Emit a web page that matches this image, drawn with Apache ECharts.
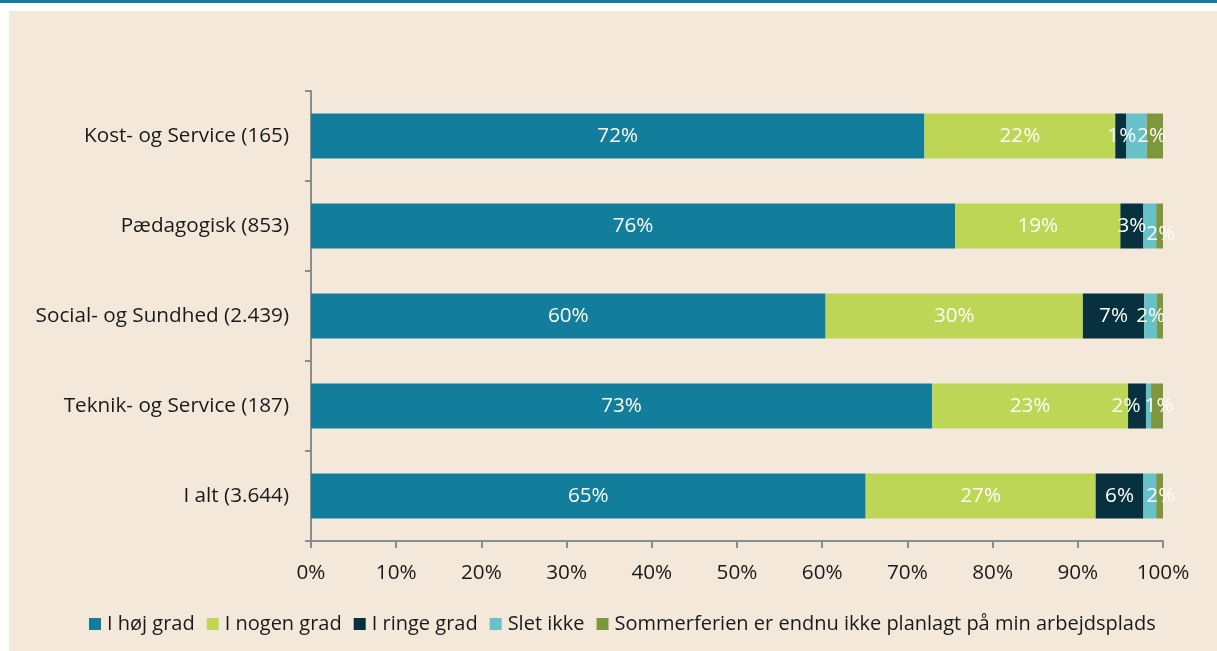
<!DOCTYPE html>
<html><head><meta charset="utf-8">
<script src="https://cdn.jsdelivr.net/npm/echarts@6/dist/echarts.min.js"></script>
<style>html,body{margin:0;padding:0;background:#fff}#c{width:1217px;height:651px}</style>
</head><body><div id="c"></div>
<script>
const categories = ['Kost- og Service (165)', 'Pædagogisk (853)', 'Social- og Sundhed (2.439)', 'Teknik- og Service (187)', 'I alt (3.644)'];
const seriesNames = ['I høj grad', 'I nogen grad', 'I ringe grad', 'Slet ikke', 'Sommerferien er endnu ikke planlagt på min arbejdsplads'];
const hojGrad   = [72.0, 75.6, 60.4, 72.9, 65.1];
const nogenGrad = [22.4, 19.4, 30.2, 23.0, 27.0];
const ringeGrad = [1.3, 2.7, 7.2, 2.1, 5.6];
const sletIkke  = [2.4, 1.5, 1.5, 0.6, 1.5];
const ikkePlanlagt = [1.9, 0.8, 0.7, 1.4, 0.8];
const xTicks = [0, 10, 20, 30, 40, 50, 60, 70, 80, 90, 100];

const colors = ['#137E9B', '#BDD656', '#07313F', '#67C1C8', '#7E963C'];
const values = [hojGrad, nogenGrad, ringeGrad, sletIkke, ikkePlanlagt];
// per-series, per-category label visibility/offset (display only)
const labelCfg = [
  [{}, {}, {}, {}, {}],
  [{}, {}, {}, {}, {}],
  [{off:[1,0]}, {}, {}, {off:[-11,0]}, {}],
  [{off:[15,0]}, {off:[11,8]}, {}, {hide:true}, {off:[11,0]}],
  [{hide:true}, {hide:true}, {hide:true}, {off:[2,0]}, {hide:true}]
];

const chart = echarts.init(document.getElementById('c'), null, {renderer:'canvas'});
const font = "'Open Sans', 'Noto Sans', sans-serif";
const FS = 20.7;
const series = values.map((arr, si) => ({
  name: seriesNames[si],
  type: 'bar',
  stack: 'total',
  barWidth: '50%',
  itemStyle: {color: colors[si]},
  label: {show: true, position: 'inside', color: '#fdfdf8', fontSize: FS, fontFamily: font,
          formatter: p => Math.round(p.value) + '%'},
  data: arr.map((v, ci) => {
    const cfg = labelCfg[si][ci] || {};
    const item = {value: v};
    if (cfg.hide) item.label = {show: false};
    else if (cfg.off) item.label = {offset: cfg.off};
    return item;
  })
}));

chart.setOption({
  backgroundColor: '#ffffff',
  animation: false,
  textStyle: {fontFamily: font},
  graphic: [
    {type: 'rect', left: 0, top: 0, z: -10, shape: {width: 1217, height: 3}, style: {fill: '#137E9B'}},
    {type: 'rect', left: 9, top: 11, z: -10, shape: {width: 1208, height: 640}, style: {fill: '#F4E8DA'}}
  ],
  grid: {left: 311, right: 54, top: 91, bottom: 110, containLabel: false},
  legend: {
    bottom: 12, left: 84, itemWidth: 12, itemHeight: 12, itemGap: 12,
    icon: 'rect',
    textStyle: {fontSize: 20, color: '#1a1a1a', fontFamily: font, padding: [0,0,0,1]},
    data: seriesNames
  },
  xAxis: {
    type: 'value', min: 0, max: 100, interval: 10,
    axisLine: {show: true, lineStyle: {color: '#8c8c8c', width: 2}},
    axisTick: {show: true, length: 7, lineStyle: {color: '#8c8c8c', width: 2}},
    splitLine: {show: false},
    axisLabel: {fontSize: FS, color: '#1a1a1a', margin: 22, formatter: v => xTicks.includes(v) ? v + '%' : ''}
  },
  yAxis: {
    type: 'category', inverse: true, data: categories,
    axisLine: {show: true, lineStyle: {color: '#8c8c8c', width: 2}},
    axisTick: {show: true, length: 6, lineStyle: {color: '#8c8c8c', width: 2}},
    axisLabel: {fontSize: FS, color: '#1a1a1a', margin: 22}
  },
  series: series
});
</script></body></html>
